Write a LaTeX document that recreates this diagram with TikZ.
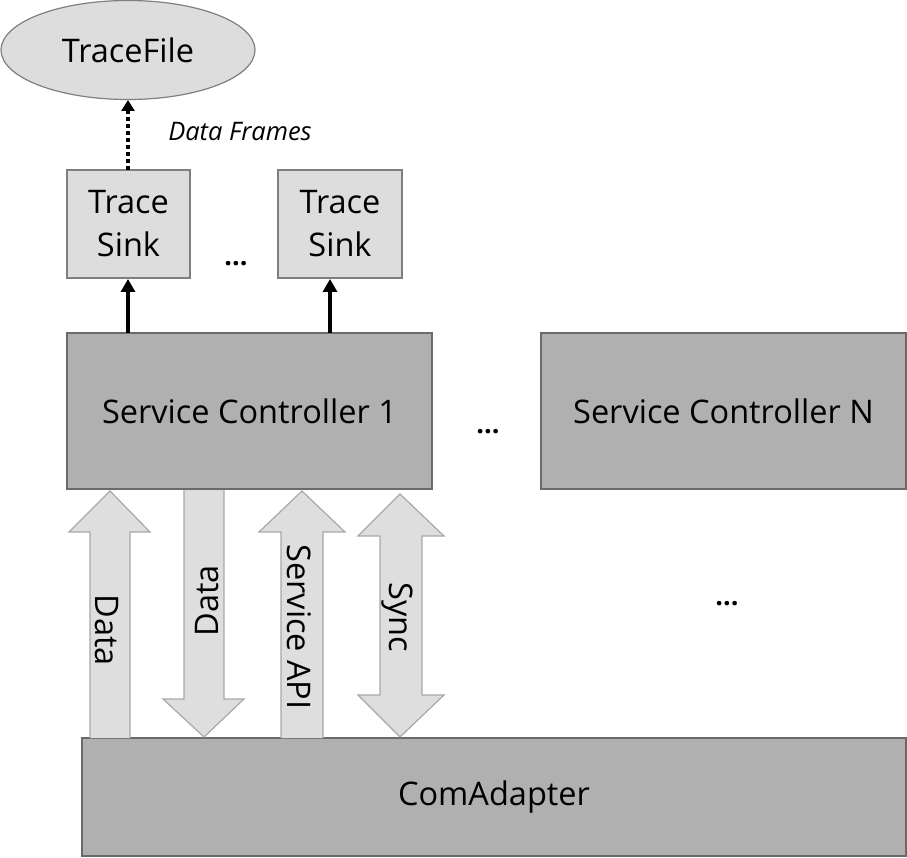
\documentclass[tikz,border=0pt]{standalone}
\usepackage{fontspec}
\setmainfont{Open Sans}
\usetikzlibrary{arrows.meta,shapes.geometric}
\definecolor{lightfill}{HTML}{DDDDDD}
\definecolor{lightdraw}{HTML}{7F7F7F}
\definecolor{darkfill}{HTML}{B0B0B0}
\definecolor{darkdraw}{HTML}{6A6A6A}
\definecolor{barfill}{HTML}{DEDEDE}
\definecolor{bardraw}{HTML}{A8A8A8}
\tikzset{
  lbl/.style={font=\fontsize{32.5}{40}\selectfont, align=center},
  dotslbl/.style={font=\fontsize{27}{30}\selectfont\bfseries},
  lightbox/.style={draw=lightdraw, fill=lightfill, line width=1.5pt},
  darkbox/.style={draw=darkdraw, fill=darkfill, line width=1.5pt},
  bararrow/.style={draw=bardraw, fill=barfill, line width=1.2pt, line join=miter},
  blackarrow/.style={line width=3.5pt, -{Triangle[width=14pt,length=13pt]}},
  dotarrow/.style={line width=4pt, dash pattern=on 4pt off 3pt, -{Triangle[width=13pt,length=11pt]}},
}
\begin{document}
\begin{tikzpicture}[x=1pt,y=-1pt]
\useasboundingbox (0,0) rectangle (907,858);
% ellipse
\draw[lightbox, line width=1.2pt] (128,50) ellipse [x radius=127, y radius=49.5];
\node[lbl] (tf) at (128,50) {TraceFile};
\coordinate (tfb) at (128,100);
% trace sinks
\filldraw[lightbox] (67,170) rectangle (190,278);
\filldraw[lightbox] (278,170) rectangle (402,278);
\node[lbl, font=\fontsize{32.5}{43}\selectfont] (ts1) at (128.5,224) {Trace\\Sink};
\node[lbl, font=\fontsize{32.5}{43}\selectfont] (ts2) at (340,224) {Trace\\Sink};
\coordinate (ts1t) at (128,170);
\coordinate (ts1b) at (128,279);
\coordinate (ts2b) at (330,279);
\node[dotslbl] (dots1) at (236,264) {...};
\node[font=\fontsize{25.5}{30}\selectfont\itshape] (df) at (240,132) {Data Frames};
% controllers
\filldraw[darkbox] (67,333) rectangle (432,489);
\filldraw[darkbox] (541,333) rectangle (906,489);
\node[lbl] (sc1) at (249.5,411) {Service Controller 1};
\node[lbl] (scn) at (723.5,411) {Service Controller N};
\coordinate (sc1a) at (128,333);
\coordinate (sc1b) at (330,333);
\node[dotslbl] (dots2) at (488,432) {...};
\node[dotslbl] (dots3) at (727,604) {...};
% com adapter
\filldraw[darkbox] (82,738) rectangle (906,856);
\node[lbl] (ca) at (494,797) {ComAdapter};
% connectors
\draw[dotarrow] (ts1t) -- (tfb);
\draw[blackarrow] (sc1a) -- (ts1b);
\draw[blackarrow] (sc1b) -- (ts2b);
% block arrows
\filldraw[bararrow] (90,738) -- (90,532) -- (69,532) -- (110,491) -- (150,532) -- (130,532) -- (130,738);
\filldraw[bararrow] (184,490) -- (184,699) -- (163,699) -- (204,737) -- (244,699) -- (224,699) -- (224,490);
\filldraw[bararrow] (281,738) -- (281,532) -- (259,532) -- (302,491) -- (345,532) -- (323,532) -- (323,738);
\filldraw[bararrow] (380,536) -- (358,536) -- (400,494) -- (444,536) -- (422,536) -- (422,695) -- (444,695) -- (400,737) -- (358,695) -- (380,695) -- cycle;
\node[lbl, rotate=-90] (d1) at (107,630) {Data};
\node[lbl, rotate=90] (d2) at (207,601) {Data};
\node[lbl, rotate=-90] (sapi) at (299,627) {Service API};
\node[lbl, rotate=-90] (sync) at (397,617) {Sync};
\end{tikzpicture}
\end{document}
